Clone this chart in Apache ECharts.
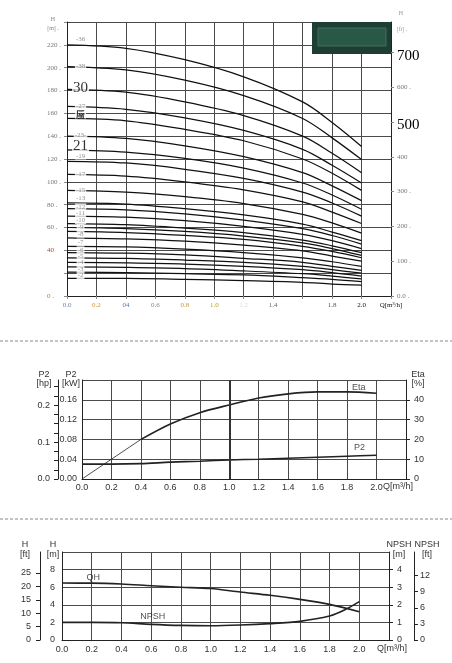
<!DOCTYPE html>
<html>
<head>
<meta charset="utf-8">
<script src="https://cdn.jsdelivr.net/npm/echarts@6.0.0/dist/echarts.min.js"></script>
<style>
  html, body { margin: 0; padding: 0; background: #fff; }
  #chart { width: 452px; height: 663px; }
</style>
</head>
<body>
<div id="chart"></div>
<script>
// ---- top panel: head curves, one per stage count
const flowQ = [0, 0.4, 0.8, 1.2, 1.6, 1.8, 2.0];
const headCurves = [
  [220, 217, 207, 192, 170, 152, 131],
  [201, 198, 189, 175.5, 155.5, 138.5, 119.5],
  [181, 178.5, 170, 158, 140, 125, 108],
  [166, 163.5, 156, 145, 128.5, 114.5, 99],
  [155.5, 153.5, 146, 136, 120, 107.5, 92.5],
  [140, 138, 131.5, 122, 108, 96.5, 83.5],
  [128, 126, 120.5, 112, 99, 88.5, 76],
  [118, 116.5, 111, 103, 91, 81.5, 70],
  [106.5, 105, 100, 93, 82.5, 73.5, 63.5],
  [92.5, 91, 87, 81, 71.5, 64, 55],
  [81.5, 80.5, 76.5, 71, 63, 56, 48.5],
  [76.5, 75.5, 72, 66.5, 59, 53, 45.5],
  [70, 69, 66, 61, 54, 48.5, 41.5],
  [63.5, 62.5, 59.5, 55.5, 49, 44, 38],
  [60, 59, 56.5, 52.5, 46.5, 41.5, 35.5],
  [56.5, 55.5, 53, 49.5, 43.5, 39, 33.5],
  [51, 50, 48, 44.5, 39.5, 35, 30.5],
  [43.5, 43, 41, 38, 33.5, 30, 26],
  [38, 37.5, 36, 33, 29.5, 26, 22.5],
  [33.5, 33, 31.5, 29.5, 26, 23, 20],
  [29.5, 29, 28, 26, 23, 20.5, 17.5],
  [25.5, 25, 24, 22, 19.5, 17.5, 15],
  [21, 20.5, 19.5, 18.5, 16, 14.5, 12.5],
  [15.5, 15.5, 14.5, 13.5, 12, 10.5, 9.5]
];
const stageLabels = ['-36', '-38', '30', '-27', '蜃', '-23-', '21', '-19', '-17', '-15', '-13',
  '-12', '-11', '-10', '-9', '-8', '-7', '-6', '-5', '-4', '-3', '-2'];
const stageLabelH = [224.8, 201, 182, 166.6, 159.3, 140.8, 130.9, 122.6, 106.5, 92.7, 85.4,
  78, 72.2, 66, 60, 54.3, 47.3, 40.5, 34.6, 29.3, 23.8, 17.9];
const stageLabelQ = 0.092;

const topQLabels = ['0.0', '0.2', '04', '0.6', '0.8', '1.0', '1.2', '1.4', '', '1.8', '2.0', 'Q[m³/h]'];
const topQColors = ['#7084a8', '#d0903a', '#5577b0', '#888', '#c8923a', '#b0a020', '#ddd', '#666', '#999', '#555', '#111', '#111'];
const headTicks = [0, 20, 40, 60, 80, 100, 120, 140, 160, 180, 200, 220];
const headTickText = ['0 .', '', '40', '60 .', '80 .', '100 .', '120 .', '140 .', '160', '180 .', '200 .', '220 .'];
const ftTicks = [0, 100, 200, 300, 400, 500, 600, 700];
const ftTickText = ['0.0 .', '100 .', '200 .', '300 .', '400', '500', '600 .', '700'];

// ---- middle panel: power and efficiency
const pQ = [0, 0.2, 0.4, 0.6, 0.8, 1.0, 1.2, 1.4, 1.6, 1.8, 2.0];
const eta = [0, 10, 20, 27.8, 33.5, 37.4, 40.9, 43, 44, 44, 43.3];
const p2 = [0.030, 0.030, 0.031, 0.034, 0.036, 0.0385, 0.040, 0.042, 0.044, 0.046, 0.048];
const dutyQ = 1.0;
const kwTicks = [0, 0.04, 0.08, 0.12, 0.16];
const hpTicks = [0, 0.025, 0.05, 0.075, 0.1, 0.125, 0.15, 0.175, 0.2, 0.225, 0.25];
const hpLabels = [0, 0.1, 0.2];
const etaTicks = [0, 10, 20, 30, 40];

// ---- bottom panel: QH and NPSH
const hQ = [0, 0.2, 0.4, 0.6, 0.8, 1.0, 1.2, 1.4, 1.6, 1.8, 2.0];
const qh = [6.47, 6.46, 6.36, 6.17, 6.0, 5.85, 5.45, 5.08, 4.62, 4.05, 3.22];
const npshQ = [0, 0.2, 0.4, 0.6, 0.8, 1.0, 1.2, 1.4, 1.6, 1.8, 1.9, 2.0];
const npsh = [1.0, 1.0, 0.98, 0.89, 0.83, 0.81, 0.85, 0.93, 1.06, 1.36, 1.7, 2.18];
const hmTicks = [0, 2, 4, 6, 8];
const hftTicks = [0, 5, 10, 15, 20, 25];
const npshTicks = [0, 1, 2, 3, 4];
const npshFtTicks = [0, 3, 6, 9, 12];

const serif = 'Liberation Serif';
const sans = 'Liberation Sans';
const gridLine = { show: true, lineStyle: { color: '#4a4a4a', width: 1 } };
const qLabel = (v) => (v > 2.05 ? '' : v.toFixed(1));

const pairs = (xs, ys) => xs.map((x, i) => [x, ys[i]]);

const topRich = {};
topQColors.forEach((c, i) => {
  topRich['c' + i] = { color: c, fontSize: 7, fontFamily: serif };
});

const curveText = {
  show: true, position: 'inside', formatter: (p) => p.value[2],
  fontFamily: sans, fontSize: 9, color: '#222', textBorderWidth: 0
};

const chart = echarts.init(document.getElementById('chart'));

const series = [];
headCurves.forEach((curve) => {
  series.push({
    type: 'line', xAxisIndex: 0, yAxisIndex: 0,
    data: pairs(flowQ, curve), smooth: 0.35, showSymbol: false,
    lineStyle: { color: '#111', width: 1.25 }, silent: true
  });
});
series.push({
  type: 'scatter', xAxisIndex: 0, yAxisIndex: 0, symbolSize: 0, z: 5,
  data: stageLabels.map((t, i) => {
    const big = t === '30' || t === '21';
    const mark = t === '蜃';
    return {
      value: [stageLabelQ, stageLabelH[i], t],
      label: {
        show: true, position: 'inside', formatter: t, textBorderWidth: 0,
        fontFamily: mark ? 'Noto Sans CJK SC' : serif,
        fontSize: big ? 15 : (mark ? 9 : 7),
        fontWeight: mark ? 'bold' : 'normal',
        color: big || mark ? '#000' : '#777',
        backgroundColor: '#fff', padding: [0, 1]
      }
    };
  })
});

series.push({
  type: 'line', xAxisIndex: 1, yAxisIndex: 4, data: pairs(pQ.slice(0, 3), eta.slice(0, 3)),
  showSymbol: false, lineStyle: { color: '#222', width: 0.8 }
});
series.push({
  type: 'line', xAxisIndex: 1, yAxisIndex: 4, data: pairs(pQ.slice(2), eta.slice(2)),
  smooth: 0.3, showSymbol: false, lineStyle: { color: '#222', width: 1.6 },
  markLine: {
    silent: true, symbol: 'none', label: { show: false },
    lineStyle: { color: '#333', width: 2, type: 'solid' },
    data: [{ xAxis: dutyQ }]
  }
});
series.push({
  type: 'line', xAxisIndex: 1, yAxisIndex: 2, data: pairs(pQ, p2),
  smooth: 0.3, showSymbol: false, lineStyle: { color: '#222', width: 1.6 }
});
series.push({
  type: 'scatter', xAxisIndex: 1, yAxisIndex: 4, symbolSize: 0, label: curveText,
  data: [[1.88, 46, 'Eta'], [1.885, 15.7, 'P2']]
});

series.push({
  type: 'line', xAxisIndex: 2, yAxisIndex: 5, data: pairs(hQ, qh),
  smooth: 0.3, showSymbol: false, lineStyle: { color: '#222', width: 1.6 }
});
series.push({
  type: 'line', xAxisIndex: 2, yAxisIndex: 7, data: pairs(npshQ, npsh),
  smooth: 0.3, showSymbol: false, lineStyle: { color: '#222', width: 1.6 }
});
series.push({
  type: 'scatter', xAxisIndex: 2, yAxisIndex: 5, symbolSize: 0, label: curveText,
  data: [[0.21, 7.05, 'QH'], [0.61, 2.7, 'NPSH']]
});

const txt = (x, y, text, opt) => ({
  type: 'text', x: x, y: y, silent: true,
  style: Object.assign({ text: text, fontFamily: sans, fontSize: 9, fill: '#333', align: 'center', verticalAlign: 'middle' }, opt || {})
});

chart.setOption({
  animation: false,
  grid: [
    { left: 67, top: 22, width: 324, height: 274 },
    { left: 82, top: 380, width: 324, height: 99 },
    { left: 62, top: 552, width: 327, height: 88 }
  ],
  xAxis: [
    {
      gridIndex: 0, type: 'value', min: 0, max: 2.2, interval: 0.2,
      axisLine: { lineStyle: { color: '#222' } },
      axisTick: { length: 3, lineStyle: { color: '#888' } },
      axisLabel: {
        margin: 6, rich: topRich,
        formatter: (v) => {
          const i = Math.round(v / 0.2);
          return topQLabels[i] ? '{c' + i + '|' + topQLabels[i] + '}' : '';
        }
      },
      splitLine: gridLine
    },
    {
      gridIndex: 1, type: 'value', min: 0, max: 2.2, interval: 0.2,
      axisLine: { lineStyle: { color: '#222' } }, axisTick: { show: false },
      axisLabel: { margin: 4, formatter: qLabel, fontFamily: sans, fontSize: 9, color: '#333' },
      splitLine: gridLine
    },
    {
      gridIndex: 2, type: 'value', min: 0, max: 2.2, interval: 0.2,
      axisLine: { lineStyle: { color: '#222' } }, axisTick: { show: false },
      axisLabel: { margin: 5, formatter: qLabel, fontFamily: sans, fontSize: 9, color: '#333' },
      splitLine: gridLine
    }
  ],
  yAxis: [
    {
      gridIndex: 0, type: 'value', min: 0, max: 240, interval: 20, position: 'left',
      axisLine: { show: true, lineStyle: { color: '#222' } },
      axisTick: { show: true, length: 3, lineStyle: { color: '#888' } },
      axisLabel: {
        align: 'left', margin: 20, fontFamily: serif, fontSize: 7,
        formatter: (v) => {
          const i = headTicks.indexOf(v);
          if (i < 0) return '';
          if (v === 40) return '{r|' + headTickText[i] + '}';
          if (v === 0) return '{o|' + headTickText[i] + '}';
          return headTickText[i];
        },
        color: '#777',
        rich: {
          r: { color: '#a04a30', fontSize: 7, fontFamily: serif },
          o: { color: '#c07a3a', fontSize: 7, fontFamily: serif }
        }
      },
      splitLine: gridLine
    },
    {
      gridIndex: 0, type: 'value', min: 0, max: 240 / 0.3048, position: 'right',
      axisLine: { show: true, lineStyle: { color: '#222' } },
      axisTick: { show: true, length: 3, customValues: ftTicks, lineStyle: { color: '#888' } },
      axisLabel: {
        margin: 6, customValues: ftTicks, fontFamily: serif, fontSize: 7, color: '#777',
        formatter: (v) => {
          const i = ftTicks.indexOf(v);
          if (i < 0) return '';
          return (v === 500 || v === 700) ? '{big|' + ftTickText[i] + '}' : ftTickText[i];
        },
        rich: { big: { fontSize: 15, color: '#000', fontFamily: serif, padding: [7, 0, 0, 0] } }
      },
      splitLine: { show: false }
    },
    {
      gridIndex: 1, type: 'value', min: 0, max: 0.2, interval: 0.04, position: 'left',
      axisLine: { show: true, lineStyle: { color: '#222' } }, axisTick: { show: false },
      axisLabel: { margin: 5, customValues: kwTicks, formatter: (v) => v.toFixed(2), fontFamily: sans, fontSize: 9, color: '#333' },
      splitLine: gridLine
    },
    {
      gridIndex: 1, type: 'value', min: 0, max: 0.2 / 0.7457, position: 'left', offset: 24,
      axisLine: { show: true, lineStyle: { color: '#222' } },
      axisTick: { show: true, length: 4, customValues: hpTicks, lineStyle: { color: '#222' } },
      axisLabel: { margin: 8, customValues: hpLabels, formatter: (v) => v.toFixed(1), fontFamily: sans, fontSize: 9, color: '#333' },
      splitLine: { show: false }
    },
    {
      gridIndex: 1, type: 'value', min: 0, max: 50, position: 'right',
      axisLine: { show: true, lineStyle: { color: '#222' } },
      axisTick: { show: true, length: 4, customValues: etaTicks, lineStyle: { color: '#222' } },
      axisLabel: { margin: 8, customValues: etaTicks, fontFamily: sans, fontSize: 9, color: '#333' },
      splitLine: { show: false }
    },
    {
      gridIndex: 2, type: 'value', min: 0, max: 10, interval: 2, position: 'left',
      axisLine: { show: true, lineStyle: { color: '#222' } }, axisTick: { show: false },
      axisLabel: { margin: 7, customValues: hmTicks, fontFamily: sans, fontSize: 9, color: '#333' },
      splitLine: gridLine
    },
    {
      gridIndex: 2, type: 'value', min: 0, max: 10 / 0.3048, position: 'left', offset: 22,
      axisLine: { show: true, lineStyle: { color: '#222' } },
      axisTick: { show: true, length: 4, customValues: hftTicks, lineStyle: { color: '#222' } },
      axisLabel: { margin: 9, customValues: hftTicks, fontFamily: sans, fontSize: 9, color: '#333' },
      splitLine: { show: false }
    },
    {
      gridIndex: 2, type: 'value', min: 0, max: 5, position: 'right',
      axisLine: { show: true, lineStyle: { color: '#222' } },
      axisTick: { show: true, length: 4, customValues: npshTicks, lineStyle: { color: '#222' } },
      axisLabel: { margin: 8, customValues: npshTicks, fontFamily: sans, fontSize: 9, color: '#333' },
      splitLine: { show: false }
    },
    {
      gridIndex: 2, type: 'value', min: 0, max: 5 / 0.3048, position: 'right', offset: 25,
      axisLine: { show: true, lineStyle: { color: '#222' } },
      axisTick: { show: true, length: 4, customValues: npshFtTicks, lineStyle: { color: '#222' } },
      axisLabel: { margin: 6, customValues: npshFtTicks, fontFamily: sans, fontSize: 9, color: '#333' },
      splitLine: { show: false }
    }
  ],
  graphic: [
    // panel separators
    { type: 'line', silent: true, shape: { x1: 0, y1: 341, x2: 452, y2: 341 }, style: { stroke: '#888', lineWidth: 1, lineDash: [3, 2] } },
    { type: 'line', silent: true, shape: { x1: 0, y1: 519, x2: 452, y2: 519 }, style: { stroke: '#888', lineWidth: 1, lineDash: [3, 2] } },
    // dark badge in the top panel corner
    { type: 'rect', silent: true, z: 10, shape: { x: 312, y: 22, width: 79, height: 32 }, style: { fill: '#1e3d33' } },
    { type: 'rect', silent: true, z: 11, shape: { x: 318, y: 28, width: 68, height: 18 }, style: { fill: '#2a5847', stroke: '#3f6e5c', lineWidth: 1 } },
    // axis names
    txt(53, 19, 'H', { fontFamily: serif, fontSize: 6, fill: '#888' }),
    txt(53, 28, '[m] .', { fontFamily: serif, fontSize: 6, fill: '#888' }),
    txt(401, 13, 'H', { fontFamily: serif, fontSize: 6, fill: '#999' }),
    txt(402, 29, '[ft] .', { fontFamily: serif, fontSize: 6, fill: '#999' }),
    txt(44, 375, 'P2'), txt(44, 384, '[hp]'),
    txt(71, 375, 'P2'), txt(71, 384, '[kW]'),
    txt(418, 375, 'Eta'), txt(418, 384, '[%]'),
    txt(383, 487, 'Q[m³/h]', { align: 'left' }),
    txt(25, 545, 'H'), txt(25, 555, '[ft]'),
    txt(53, 545, 'H'), txt(53, 555, '[m]'),
    txt(399, 545, 'NPSH'), txt(399, 555, '[m]'),
    txt(427, 545, 'NPSH'), txt(427, 555, '[ft]'),
    txt(377, 649, 'Q[m³/h]', { align: 'left' })
  ],
  series: series
});
</script>
</body>
</html>
